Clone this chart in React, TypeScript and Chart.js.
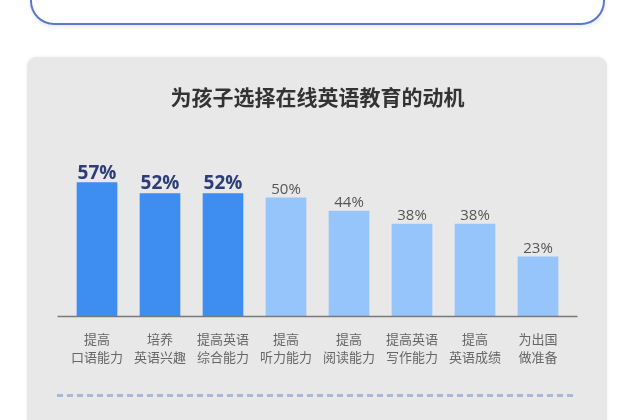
import React, { useEffect, useRef } from "react";
import { Chart, registerables } from "chart.js";

Chart.register(...registerables);

const title = "为孩子选择在线英语教育的动机";
const categories: string[][] = [
  ["提高", "口语能力"],
  ["培养", "英语兴趣"],
  ["提高英语", "综合能力"],
  ["提高", "听力能力"],
  ["提高", "阅读能力"],
  ["提高英语", "写作能力"],
  ["提高", "英语成绩"],
  ["为出国", "做准备"],
];
const values: number[] = [57, 52, 52, 50, 44, 38, 38, 23];
const highlighted: boolean[] = [true, true, true, false, false, false, false, false];

const FONT = '"Open Sans", "Noto Sans CJK SC", sans-serif';
const DARK_BAR = "#3d8ef0";
const LIGHT_BAR = "#95c5fb";

const valueLabels = {
  id: "valueLabels",
  afterDatasetsDraw(chart: any) {
    const ctx = chart.ctx;
    const meta = chart.getDatasetMeta(0);
    ctx.save();
    ctx.textAlign = "center";
    ctx.textBaseline = "alphabetic";
    meta.data.forEach((bar: any, i: number) => {
      const hi = highlighted[i];
      ctx.font = hi ? `bold 19px ${FONT}` : `15px ${FONT}`;
      ctx.fillStyle = hi ? "#2c3d78" : "#555555";
      ctx.fillText(`${values[i]}%`, bar.x, bar.y - 4);
    });
    ctx.restore();
  },
};

const axisLine = {
  id: "axisLine",
  afterDatasetsDraw(chart: any) {
    const { ctx, chartArea } = chart;
    ctx.save();
    ctx.strokeStyle = "#7a7a7a";
    ctx.lineWidth = 1.5;
    ctx.beginPath();
    ctx.moveTo(chartArea.left - 8, chartArea.bottom + 0.5);
    ctx.lineTo(chartArea.right + 8, chartArea.bottom + 0.5);
    ctx.stroke();
    ctx.restore();
  },
};

export default function App() {
  const ref = useRef<HTMLCanvasElement | null>(null);

  useEffect(() => {
    if (!ref.current) return;
    const chart = new Chart(ref.current, {
      type: "bar",
      data: {
        labels: categories,
        datasets: [
          {
            data: values,
            base: -4,
            backgroundColor: values.map((_, i) => (highlighted[i] ? DARK_BAR : LIGHT_BAR)),
            borderWidth: 0,
            barThickness: 40,
          } as any,
        ],
      },
      options: {
        responsive: false,
        animation: false,
        layout: { padding: { left: 65.5, right: 70.5, top: 86, bottom: 50 } },
        plugins: {
          legend: { display: false },
          tooltip: { enabled: false },
          title: {
            display: true,
            text: title,
            color: "#333333",
            font: { family: FONT, size: 21, weight: "bold", lineHeight: 1.2 },
            padding: { top: 0, bottom: 18.8 },
          },
        },
        scales: {
          x: {
            grid: { display: false },
            border: { display: false },
            ticks: {
              color: "#666666",
              font: { family: FONT, size: 13, lineHeight: 1.385 },
              padding: 7,
              maxRotation: 0,
              autoSkip: false,
            },
            afterFit: (scale: any) => {
              scale.height = 54;
            },
          },
          y: {
            display: false,
            min: -4,
            max: 81,
          },
        },
      },
      plugins: [valueLabels, axisLine],
    });
    return () => chart.destroy();
  }, []);

  return (
    <div
      style={{
        position: "fixed",
        left: 0,
        top: 0,
        width: 640,
        height: 420,
        background: "#ffffff",
        overflow: "hidden",
      }}
    >
      <div
        style={{
          position: "absolute",
          left: 30,
          top: -50,
          width: 571,
          height: 71,
          border: "2px solid #5a78c8",
          borderRadius: 24,
          boxShadow: "0 2px 4px rgba(90,120,200,0.15)",
        }}
      />
      <div
        style={{
          position: "absolute",
          left: 27,
          top: 57,
          width: 580,
          height: 420,
          background: "#e8e8e8",
          borderRadius: 9,
          boxShadow: "0 0 4px rgba(0,0,0,0.06)",
        }}
      />
      <div
        style={{
          position: "absolute",
          left: 57,
          top: 394,
          width: 520,
          height: 3,
          backgroundImage:
            "repeating-linear-gradient(to right, #a9b8d6 0px, #a9b8d6 6px, transparent 6px, transparent 10px)",
        }}
      />
      <canvas
        ref={ref}
        width={640}
        height={420}
        style={{ position: "absolute", left: 0, top: 0, width: 640, height: 420 }}
      />
    </div>
  );
}
